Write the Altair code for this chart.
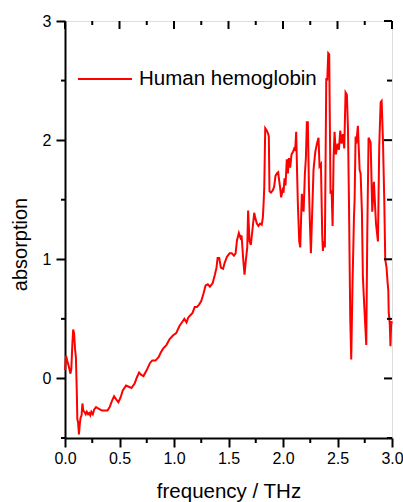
import altair as alt
import pandas as pd

# Terahertz absorption spectrum of human hemoglobin
freq = [
    0.000, 0.010, 0.020, 0.035, 0.050, 0.058, 0.068, 0.075, 0.083, 0.092,
    0.100, 0.108, 0.113, 0.120, 0.128, 0.136, 0.143, 0.152, 0.160, 0.168,
    0.178, 0.190, 0.200, 0.212, 0.222, 0.232, 0.242, 0.255, 0.268, 0.285,
    0.300, 0.320, 0.340, 0.370, 0.390, 0.410, 0.430, 0.450, 0.465, 0.490,
    0.510, 0.530, 0.560, 0.585, 0.610, 0.640, 0.660, 0.680, 0.700, 0.720,
    0.750, 0.780, 0.800, 0.830, 0.860, 0.880, 0.900, 0.930, 0.960, 0.990,
    1.020, 1.050, 1.080, 1.095, 1.115, 1.130, 1.150, 1.170, 1.190, 1.210,
    1.230, 1.250, 1.270, 1.290, 1.310, 1.330, 1.355, 1.375, 1.390, 1.400,
    1.415, 1.430, 1.450, 1.465, 1.485, 1.510, 1.530, 1.550, 1.565, 1.578,
    1.595, 1.610, 1.620, 1.635, 1.647, 1.660, 1.672, 1.680, 1.693, 1.705,
    1.720, 1.736, 1.745, 1.760, 1.775, 1.790, 1.805, 1.815, 1.821, 1.828,
    1.837, 1.852, 1.865, 1.870, 1.876, 1.889, 1.907, 1.919, 1.931, 1.944,
    1.956, 1.965, 1.974, 1.983, 1.996, 2.005, 2.014, 2.023, 2.035, 2.045,
    2.054, 2.066, 2.078, 2.091, 2.103, 2.112, 2.121, 2.130, 2.137, 2.149,
    2.158, 2.173, 2.189, 2.201, 2.210, 2.219, 2.228, 2.238, 2.247, 2.256,
    2.268, 2.280, 2.296, 2.311, 2.326, 2.335, 2.348, 2.360, 2.366, 2.372,
    2.384, 2.397, 2.406, 2.415, 2.424, 2.436, 2.446, 2.455, 2.464, 2.473,
    2.485, 2.501, 2.513, 2.525, 2.537, 2.550, 2.562, 2.574, 2.586, 2.596,
    2.605, 2.617, 2.626, 2.638, 2.651, 2.657, 2.666, 2.672, 2.687, 2.703,
    2.712, 2.724, 2.733, 2.746, 2.764, 2.773, 2.785, 2.804, 2.819, 2.834,
    2.853, 2.871, 2.883, 2.896, 2.905, 2.917, 2.929, 2.938, 2.950, 2.960,
    2.966, 2.970, 2.975, 2.980, 2.986, 2.993, 3.000,
]
absorption = [
    0.07, 0.19, 0.15, 0.10, 0.04, 0.08, 0.30, 0.41, 0.38, 0.25,
    0.18, -0.10, -0.34, -0.37, -0.47, -0.38, -0.33, -0.31, -0.21, -0.27,
    -0.28, -0.30, -0.28, -0.30, -0.29, -0.31, -0.28, -0.30, -0.26, -0.24,
    -0.25, -0.26, -0.27, -0.27, -0.27, -0.24, -0.19, -0.15, -0.17, -0.20,
    -0.16, -0.10, -0.06, -0.07, -0.08, -0.04, 0.01, 0.05, 0.03, 0.02,
    0.07, 0.13, 0.15, 0.15, 0.18, 0.22, 0.25, 0.28, 0.33, 0.36,
    0.38, 0.44, 0.48, 0.50, 0.47, 0.51, 0.53, 0.55, 0.60, 0.60,
    0.62, 0.65, 0.71, 0.78, 0.79, 0.77, 0.80, 0.87, 0.93, 1.01,
    1.01, 0.93, 0.92, 0.97, 1.02, 1.05, 1.05, 1.03, 1.05, 1.16,
    1.22, 1.18, 1.20, 1.00, 0.87, 1.00, 1.10, 1.41, 1.15, 1.12,
    1.25, 1.39, 1.35, 1.30, 1.28, 1.30, 1.29, 1.35, 1.45, 1.60,
    2.10, 2.08, 2.05, 2.03, 1.57, 1.56, 1.58, 1.61, 1.70, 1.72,
    1.73, 1.66, 1.60, 1.52, 1.58, 1.56, 1.68, 1.62, 1.84, 1.72,
    1.85, 1.77, 1.88, 1.90, 1.93, 1.92, 2.07, 1.70, 1.45, 1.15,
    1.10, 1.55, 1.40, 1.72, 1.85, 2.15, 2.15, 1.60, 1.30, 1.05,
    1.40, 1.75, 1.90, 1.97, 2.02, 1.78, 1.80, 1.20, 1.07, 1.15,
    1.10, 2.52, 2.50, 2.73, 2.72, 1.55, 1.58, 1.28, 1.85, 2.07,
    1.88, 1.97, 1.92, 2.08, 1.97, 2.05, 1.93, 2.40, 2.38, 2.10,
    1.50, 0.50, 0.16, 0.80, 1.35, 1.50, 2.03, 1.97, 2.12, 1.75,
    1.72, 1.40, 0.85, 0.60, 0.28, 1.20, 2.02, 1.98, 1.40, 1.65,
    1.30, 1.15, 1.95, 2.32, 2.33, 2.00, 1.50, 1.00, 0.93, 0.80,
    0.74, 0.55, 0.51, 0.45, 0.27, 0.48, 0.46,
]
series_name = "Human hemoglobin"

x_major = [0.0, 0.5, 1.0, 1.5, 2.0, 2.5, 3.0]
x_minor = [0.25, 0.75, 1.25, 1.75, 2.25, 2.75]
y_major = [0, 1, 2, 3]
y_minor = [-0.5, 0.5, 1.5, 2.5]

FONT = "Liberation Sans"
W, H = 327, 417

spectrum = pd.DataFrame({"freq": freq, "absorption": absorption, "series": series_name})

xs = alt.Scale(domain=[0, 3], nice=False, zero=False)
ys = alt.Scale(domain=[-0.5, 3], nice=False, zero=False)

x_axis = alt.Axis(
    values=x_major, format=".1f", title="frequency / THz",
    tickSize=9, tickWidth=2, tickColor="black",
    domain=True, domainWidth=2, domainColor="black", grid=False,
    labelFont=FONT, labelFontSize=16, labelColor="black", labelPadding=3,
    labelFlush=False,
    titleFont=FONT, titleFontSize=20.5, titleFontWeight="normal",
    titleColor="black", titleBaseline="alphabetic", titleY=59,
)
y_axis = alt.Axis(
    values=y_major, format="d", title="absorption",
    tickSize=9, tickWidth=2, tickColor="black",
    domain=True, domainWidth=2, domainColor="black", grid=False,
    labelFont=FONT, labelFontSize=16, labelColor="black", labelPadding=5,
    labelFlush=False,
    titleFont=FONT, titleFontSize=20, titleFontWeight="normal",
    titleColor="black", titleAngle=270, titleBaseline="alphabetic",
    titleAlign="center", titleX=-39, titleY=223,
)

line = alt.Chart(spectrum).mark_line(strokeWidth=2, interpolate="linear").encode(
    x=alt.X("freq:Q", scale=xs, axis=x_axis),
    y=alt.Y("absorption:Q", scale=ys, axis=y_axis),
    color=alt.Color(
        "series:N",
        scale=alt.Scale(domain=[series_name], range=["#ff0000"]),
        legend=alt.Legend(
            title=None, orient="none", legendX=12, legendY=30,
            symbolType="stroke", symbolSize=2916, symbolStrokeWidth=2,
            labelFont=FONT, labelFontSize=20.5, labelColor="black",
            labelOffset=6, labelLimit=400, padding=0,
        ),
    ),
)


def tick_layer(values, orient, p0, p1):
    """Short black rules at given data values, offset in pixels from an edge."""
    df = pd.DataFrame({"v": values})
    base = alt.Chart(df).mark_rule(color="black", strokeWidth=2)
    if orient == "x":
        return base.encode(
            x=alt.X("v:Q", scale=xs, axis=x_axis),
            y=alt.value(p0), y2=alt.value(p1),
        )
    return base.encode(
        y=alt.Y("v:Q", scale=ys, axis=y_axis),
        x=alt.value(p0), x2=alt.value(p1),
    )


ticks = [
    tick_layer(x_minor, "x", H, H + 5),      # bottom minor, outward
    tick_layer(x_major, "x", 0, 8),          # top major, inward
    tick_layer(x_minor, "x", 0, 4),          # top minor, inward
    tick_layer(y_minor, "y", -4, 0),         # left minor, outward
    tick_layer(y_major, "y", W, W - 8),      # right major, inward
    tick_layer(y_minor, "y", W, W - 5),      # right minor, inward
]

chart = alt.layer(line, *ticks).properties(
    width=W, height=H,
    autosize=alt.AutoSizeParams(type="none"),
    padding={"left": 65, "top": 21, "right": 11, "bottom": 64},
).configure_view(
    stroke="black", strokeWidth=2
).configure(background="white")

chart.save("out.html", embed_options={"renderer": "svg", "actions": False})
